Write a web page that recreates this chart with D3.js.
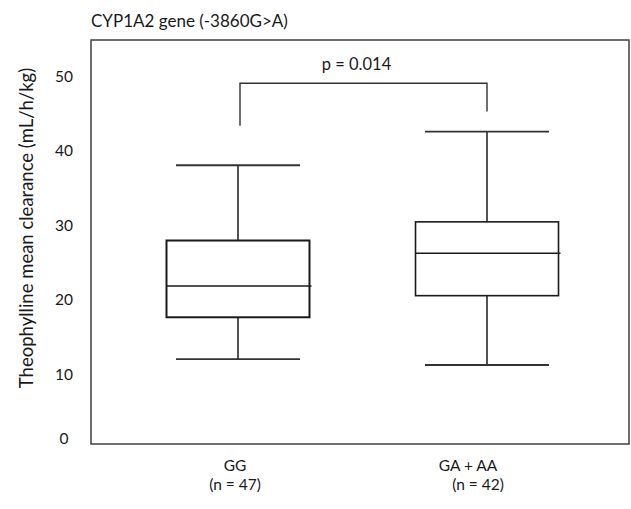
<!DOCTYPE html>
<html>
<head>
<meta charset="utf-8">
<script src="https://cdn.jsdelivr.net/npm/d3@7"></script>
<style>
  body { margin: 0; background: #fff; }
  svg text { font-family: Lato, "Open Sans", sans-serif; fill: #1a1a1a; }
</style>
</head>
<body>
<div id="chart"></div>
<script>
// box plot values
var groups    = ["GG", "GA + AA"];
var nLabels   = ["(n = 47)", "(n = 42)"];
var whiskLow  = [12.0, 11.2];
var q1        = [17.6, 20.5];
var median    = [21.8, 26.2];
var q3        = [27.9, 30.4];
var whiskHigh = [38.0, 42.5];
// significance bracket: top of bracket, bottom of each leg
var bracketTop  = 49.0;
var bracketLegs = [43.3, 45.2];
var pText = "p = 0.014";
var yTicks = [0, 10, 20, 30, 40, 50];

var W = 631, H = 509;
var margin = {top: 40, right: 2, bottom: 65, left: 91};
var width = W - margin.left - margin.right,
    height = H - margin.top - margin.bottom;

var svg = d3.select("#chart").append("svg")
    .attr("width", W)
    .attr("height", H);

var g = svg.append("g")
    .attr("transform", "translate(" + margin.left + "," + margin.top + ")");

var y = d3.scaleLinear()
    .domain([0.6, 54.8])
    .range([height, 0]);

// box centres
var x = d3.scalePoint()
    .domain(groups)
    .range([147, 396]);

var boxW = 143, capW = 124;

// frame
g.append("rect")
    .attr("x", 0).attr("y", 0)
    .attr("width", width).attr("height", height)
    .attr("fill", "none")
    .attr("stroke", "#333")
    .attr("stroke-width", 1.4);

// y axis labels only
var yAxis = g.append("g")
    .call(d3.axisLeft(y).tickValues(yTicks).tickSize(0).tickPadding(27));
yAxis.select(".domain").remove();
yAxis.selectAll("text")
    .attr("text-anchor", "middle")
    .attr("font-size", 15.5)
    .attr("dy", "0.35em")
    .attr("transform", function(d) { return d === 0 ? "translate(0,-10)" : null; })
    .style("font-family", "Lato, sans-serif")
    .style("fill", "#1a1a1a");

var data = groups.map(function(k, i) {
    return {key: k, n: nLabels[i], lo: whiskLow[i], q1: q1[i], med: median[i], q3: q3[i], hi: whiskHigh[i]};
});

var box = g.selectAll(".box")
    .data(data)
    .enter().append("g")
    .attr("class", "box")
    .attr("transform", function(d) { return "translate(" + x(d.key) + ",0)"; });

// whisker stems
box.append("line")
    .attr("x1", 0).attr("x2", 0)
    .attr("y1", function(d) { return y(d.hi); })
    .attr("y2", function(d) { return y(d.q3); })
    .attr("stroke", "#1a1a1a").attr("stroke-width", 1.5);
box.append("line")
    .attr("x1", 0).attr("x2", 0)
    .attr("y1", function(d) { return y(d.q1); })
    .attr("y2", function(d) { return y(d.lo); })
    .attr("stroke", "#1a1a1a").attr("stroke-width", 1.5);

// caps
box.selectAll(".cap")
    .data(function(d) { return [d.lo, d.hi]; })
    .enter().append("line")
    .attr("class", "cap")
    .attr("x1", -capW / 2).attr("x2", capW / 2)
    .attr("y1", function(v) { return y(v); })
    .attr("y2", function(v) { return y(v); })
    .attr("stroke", "#333").attr("stroke-width", 1.8);

// boxes
box.append("rect")
    .attr("x", -boxW / 2)
    .attr("width", boxW)
    .attr("y", function(d) { return y(d.q3); })
    .attr("height", function(d) { return y(d.q1) - y(d.q3); })
    .attr("fill", "none")
    .attr("stroke", "#1a1a1a")
    .attr("stroke-width", function(d, i) { return i === 0 ? 2 : 1.6; });

// medians
box.append("line")
    .attr("x1", -boxW / 2).attr("x2", boxW / 2 + 2)
    .attr("y1", function(d) { return y(d.med); })
    .attr("y2", function(d) { return y(d.med); })
    .attr("stroke", "#1a1a1a").attr("stroke-width", 1.5);

// category labels
box.append("text")
    .attr("x", function(d, i) { return i === 0 ? -3 : -19; })
    .attr("y", height + 27)
    .attr("text-anchor", "middle")
    .attr("font-size", 15.5)
    .text(function(d) { return d.key; });
box.append("text")
    .attr("x", function(d, i) { return i === 0 ? -3 : -9; })
    .attr("y", height + 46)
    .attr("text-anchor", "middle")
    .attr("font-size", 15.5)
    .text(function(d) { return d.n; });

// significance bracket
var bx0 = x(groups[0]) + 2, bx1 = x(groups[1]);
g.append("path")
    .attr("d", d3.line()([[bx0, y(bracketLegs[0])], [bx0, y(bracketTop)], [bx1, y(bracketTop)], [bx1, y(bracketLegs[1])]]))
    .attr("fill", "none")
    .attr("stroke", "#333")
    .attr("stroke-width", 1.4);
g.append("text")
    .attr("x", (bx0 + bx1) / 2 - 7)
    .attr("y", y(bracketTop) - 13)
    .attr("text-anchor", "middle")
    .attr("font-size", 16.5)
    .text(pText);

// title
svg.append("text")
    .attr("x", margin.left)
    .attr("y", 27)
    .attr("font-size", 17)
    .text("CYP1A2 gene (-3860G>A)");

// y axis title
svg.append("text")
    .attr("transform", "translate(33," + (margin.top + 188) + ") rotate(-90)")
    .attr("text-anchor", "middle")
    .attr("font-size", 18.5)
    .text("Theophylline mean clearance (mL/h/kg)");
</script>
</body>
</html>
